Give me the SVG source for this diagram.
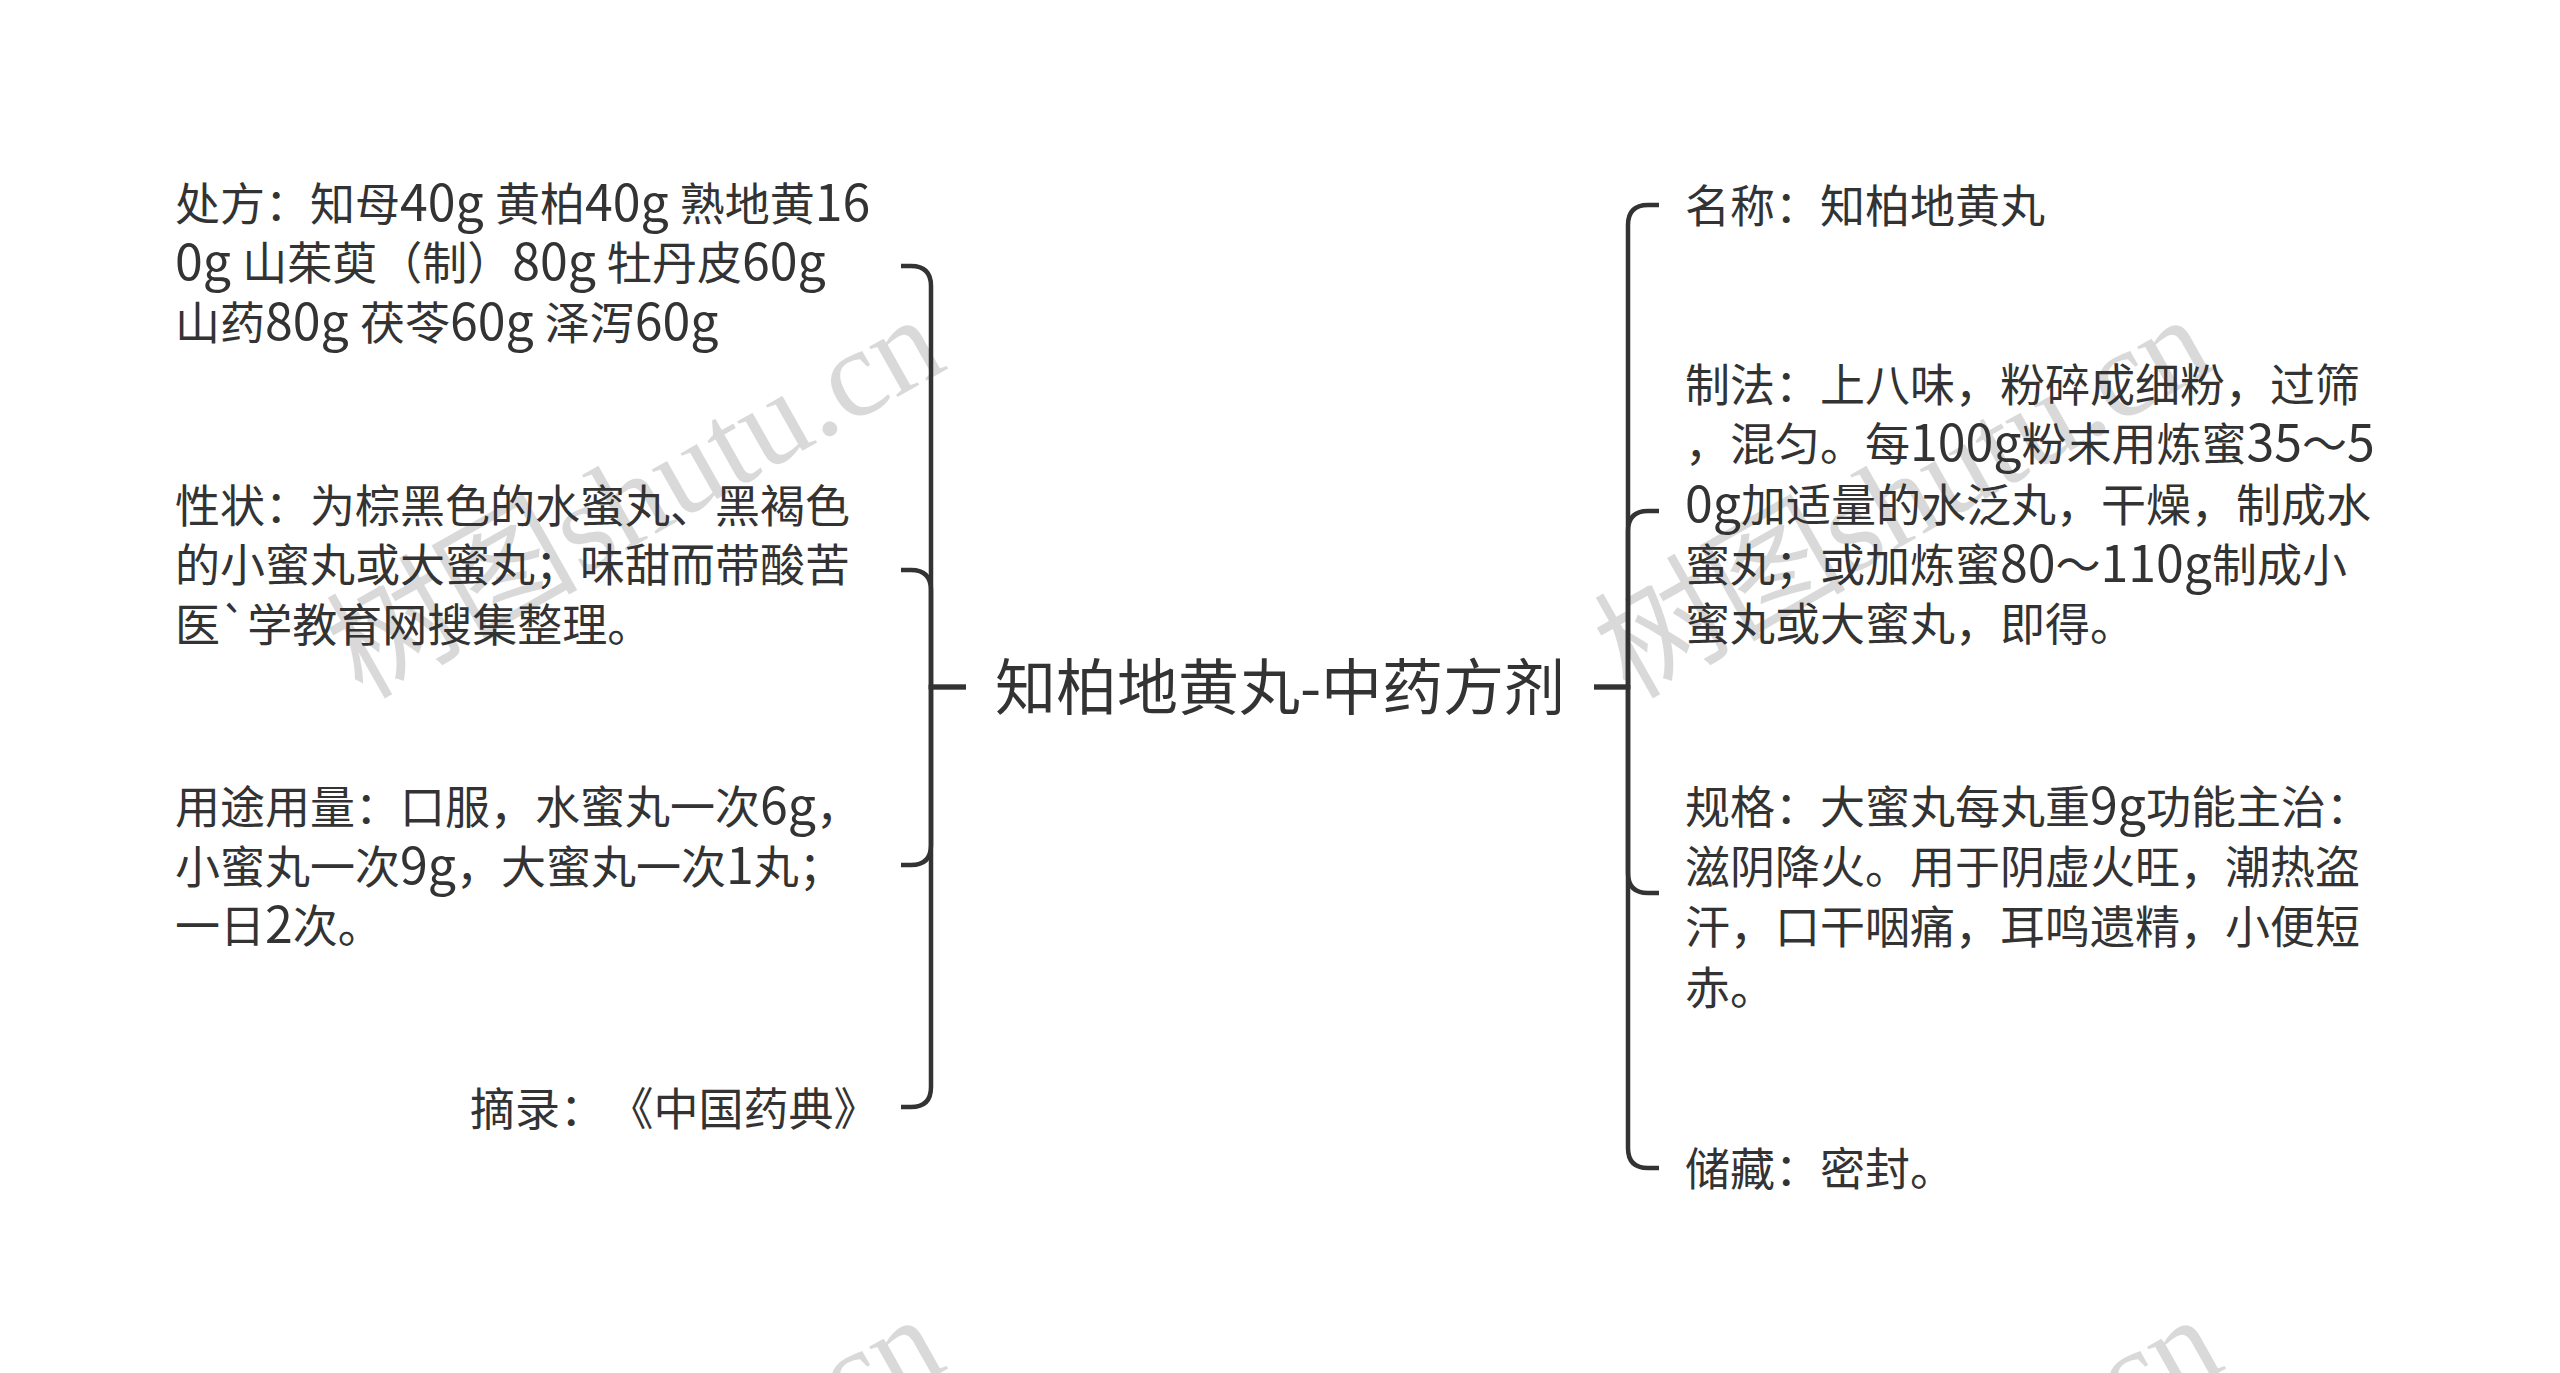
<svg xmlns="http://www.w3.org/2000/svg" width="2560" height="1373" viewBox="0 0 2560 1373">
<style>
.t{font-family:"Noto Sans CJK SC","Noto Sans",sans-serif;font-size:45px;fill:#333}
.n{font-size:50px}
.c{font-family:"Noto Sans CJK SC","Noto Sans",sans-serif;font-size:61px;fill:#333}
.wm{font-family:"Liberation Serif","Noto Sans CJK SC",serif;font-size:126px;fill:#000;fill-opacity:0.15}
.ln{fill:none;stroke:#333;stroke-width:4.5;stroke-linecap:butt}
</style>
<rect width="2560" height="1373" fill="#fff"/>
<g id="watermarks">
<text class="wm" x="362" y="700" transform="rotate(-29.5 362 700)">树图shutu.cn</text>
<text class="wm" x="1630" y="700" transform="rotate(-29.5 1630 700)">树图shutu.cn</text>
<text class="wm" x="362" y="1700" transform="rotate(-29.5 362 1700)">树图shutu.cn</text>
<text class="wm" x="1640" y="1700" transform="rotate(-29.5 1640 1700)">树图shutu.cn</text>
</g>
<g id="connectors">
<path class="ln" d="M966,687 H931 V286 Q931,266 911,266 H901"/>
<path class="ln" d="M966,687 H931 V590 Q931,570 911,570 H901"/>
<path class="ln" d="M966,687 H931 V845 Q931,865 911,865 H901"/>
<path class="ln" d="M966,687 H931 V1087 Q931,1107 911,1107 H901"/>
<path class="ln" d="M1594,687 H1628 V225 Q1628,205 1648,205 H1659"/>
<path class="ln" d="M1594,687 H1628 V531 Q1628,511 1648,511 H1659"/>
<path class="ln" d="M1594,687 H1628 V873 Q1628,893 1648,893 H1659"/>
<path class="ln" d="M1594,687 H1628 V1148 Q1628,1168 1648,1168 H1659"/>
</g>
<g id="root">
<text class="c" x="1280" y="710" text-anchor="middle">知柏地黄丸-中药方剂</text>
</g>
<g id="node-chufang">
<text class="t" x="175" y="221">处方：知母<tspan class="n">40g </tspan>黄柏<tspan class="n">40g </tspan>熟地黄<tspan class="n">16</tspan></text>
<text class="t" x="175" y="280"><tspan class="n">0g </tspan>山茱萸（制）<tspan class="n">80g </tspan>牡丹皮<tspan class="n">60g</tspan></text>
<text class="t" x="175" y="340">山药<tspan class="n">80g </tspan>茯苓<tspan class="n">60g </tspan>泽泻<tspan class="n">60g</tspan></text>
</g>
<g id="node-xingzhuang">
<text class="t" x="175" y="523">性状：为棕黑色的水蜜丸、黑褐色</text>
<text class="t" x="175" y="582">的小蜜丸或大蜜丸；味甜而带酸苦</text>
<text class="t" x="175" y="642">医`学教育网搜集整理。</text>
</g>
<g id="node-yongtu">
<text class="t" x="175" y="824">用途用量：口服，水蜜丸一次<tspan class="n">6g</tspan>，</text>
<text class="t" x="175" y="884">小蜜丸一次<tspan class="n">9g</tspan>，大蜜丸一次<tspan class="n">1</tspan>丸；</text>
<text class="t" x="175" y="943">一日<tspan class="n">2</tspan>次。</text>
</g>
<g id="node-zhailu">
<text class="t" x="470" y="1126">摘录：<tspan dx="26">《中国药典》</tspan></text>
</g>
<g id="node-mingcheng">
<text class="t" x="1685" y="223">名称：知柏地黄丸</text>
</g>
<g id="node-zhifa">
<text class="t" x="1685" y="402">制法：上八味，粉碎成细粉，过筛</text>
<text class="t" x="1685" y="461">，混匀。每<tspan class="n">100g</tspan>粉末用炼蜜<tspan class="n">35</tspan>～<tspan class="n">5</tspan></text>
<text class="t" x="1685" y="522"><tspan class="n">0g</tspan>加适量的水泛丸，干燥，制成水</text>
<text class="t" x="1685" y="582">蜜丸；或加炼蜜<tspan class="n">80</tspan>～<tspan class="n">110g</tspan>制成小</text>
<text class="t" x="1685" y="641">蜜丸或大蜜丸，即得。</text>
</g>
<g id="node-guige">
<text class="t" x="1685" y="824">规格：大蜜丸每丸重<tspan class="n">9g</tspan>功能主治：</text>
<text class="t" x="1685" y="884">滋阴降火。用于阴虚火旺，潮热盗</text>
<text class="t" x="1685" y="944">汗，口干咽痛，耳鸣遗精，小便短</text>
<text class="t" x="1685" y="1005">赤。</text>
</g>
<g id="node-chucang">
<text class="t" x="1685" y="1186">储藏：密封。</text>
</g>
</svg>
